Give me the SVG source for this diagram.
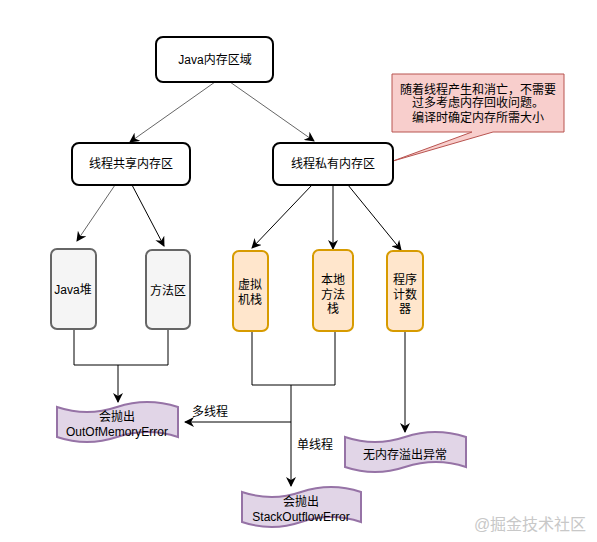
<svg xmlns="http://www.w3.org/2000/svg" width="597" height="542" viewBox="0 0 597 542">
<style>
text{font-family:"Liberation Sans","Noto Sans CJK SC",sans-serif;font-size:12px;fill:#000;text-anchor:middle}
.main{fill:#fff;stroke:#000;stroke-width:2}
.gray{fill:#f5f5f5;stroke:#666;stroke-width:2}
.orange{fill:#ffe6cc;stroke:#d79b00;stroke-width:2}
.tape{fill:#e1d5e7;stroke:#9673a6;stroke-width:2}
.c{fill:none;stroke:#000;stroke-width:1}
.cg{fill:none;stroke:#666;stroke-width:1}
</style>
<defs>
<marker id="ah" viewBox="0 0 10 10" refX="9" refY="5" markerWidth="10" markerHeight="10" markerUnits="userSpaceOnUse" orient="auto">
<path d="M0,0 L10,5 L0,10 L3,5 Z" fill="#000"/>
</marker>
</defs>
<rect width="597" height="542" fill="#fff"/>
<g id="connectors">
<path class="cg" d="M215,82 L130,142" marker-end="url(#ah)"/>
<path class="cg" d="M230,82 L314,141" marker-end="url(#ah)"/>
<path class="cg" d="M115,185 L77,241" marker-end="url(#ah)"/>
<path class="c" d="M132,185 L164,246" marker-end="url(#ah)"/>
<path class="c" d="M312,185 L252,248" marker-end="url(#ah)"/>
<path class="c" d="M333,185 L333,249" marker-end="url(#ah)"/>
<path class="c" d="M348,185 L401,250" marker-end="url(#ah)"/>
<path class="c" d="M74,329 V365 H168 V329"/>
<path class="c" d="M118,365 V402" marker-end="url(#ah)"/>
<path class="c" d="M252,331 V385 H335 V331"/>
<path class="c" d="M291,385 V486" marker-end="url(#ah)"/>
<path class="c" d="M291,422 H185" marker-end="url(#ah)"/>
<path class="c" d="M405,331 V432" marker-end="url(#ah)"/>
<text x="210" y="416">多线程</text>
<text x="315" y="449">单线程</text>
</g>
<g id="java-mem">
<rect class="main" x="156" y="37" width="117" height="45" rx="7"/>
<text x="215" y="64">Java内存区域</text>
</g>
<g id="callout">
<path d="M392,74 H564 V132 H493 L393,161 L472,132 H392 Z" fill="#f8cecc" stroke="#b85450" stroke-width="1"/>
<text x="478" y="94">随着线程产生和消亡，不需要</text>
<text x="478" y="107">过多考虑内存回收问题。</text>
<text x="478" y="122">编译时确定内存所需大小</text>
</g>
<g id="shared">
<rect class="main" x="72" y="143" width="118" height="42" rx="7"/>
<text x="131" y="168">线程共享内存区</text>
</g>
<g id="private">
<rect class="main" x="273" y="143" width="120" height="42" rx="7"/>
<text x="333" y="168">线程私有内存区</text>
</g>
<g id="heap">
<rect class="gray" x="51" y="249" width="45" height="80" rx="6"/>
<text x="73" y="294">Java堆</text>
</g>
<g id="method-area">
<rect class="gray" x="146" y="250" width="44" height="79" rx="6"/>
<text x="168" y="295">方法区</text>
</g>
<g id="vm-stack">
<rect class="orange" x="233" y="251" width="35" height="80" rx="6"/>
<text x="250" y="289">虚拟</text>
<text x="250" y="304">机栈</text>
</g>
<g id="native-stack">
<rect class="orange" x="313" y="250" width="40" height="81" rx="6"/>
<text x="333" y="284">本地</text>
<text x="333" y="299">方法</text>
<text x="333" y="313">栈</text>
</g>
<g id="pc">
<rect class="orange" x="387" y="251" width="36" height="80" rx="6"/>
<text x="405" y="284">程序</text>
<text x="405" y="299">计数</text>
<text x="405" y="313">器</text>
</g>
<g id="oom">
<path class="tape" d="M57,407 Q87,417 117,407 Q147,397 178,407 V437 Q148,427 117,437 Q87,447 57,437 Z"/>
<text x="117" y="421">会抛出</text>
<text x="117" y="436">OutOfMemoryError</text>
</g>
<g id="sof">
<path class="tape" d="M242,492 Q272,502 301,492 Q331,482 361,492 V522 Q331,512 301,522 Q272,532 242,522 Z"/>
<text x="301" y="506">会抛出</text>
<text x="301" y="521">StackOutflowError</text>
</g>
<g id="no-oom">
<path class="tape" d="M345,437 Q375,447 405,437 Q435,427 466,437 V467 Q436,457 405,467 Q375,477 345,467 Z"/>
<text x="405" y="459">无内存溢出异常</text>
</g>
<text x="530" y="530" style="font-size:16px;fill:#c8c8c8">@掘金技术社区</text>
</svg>
